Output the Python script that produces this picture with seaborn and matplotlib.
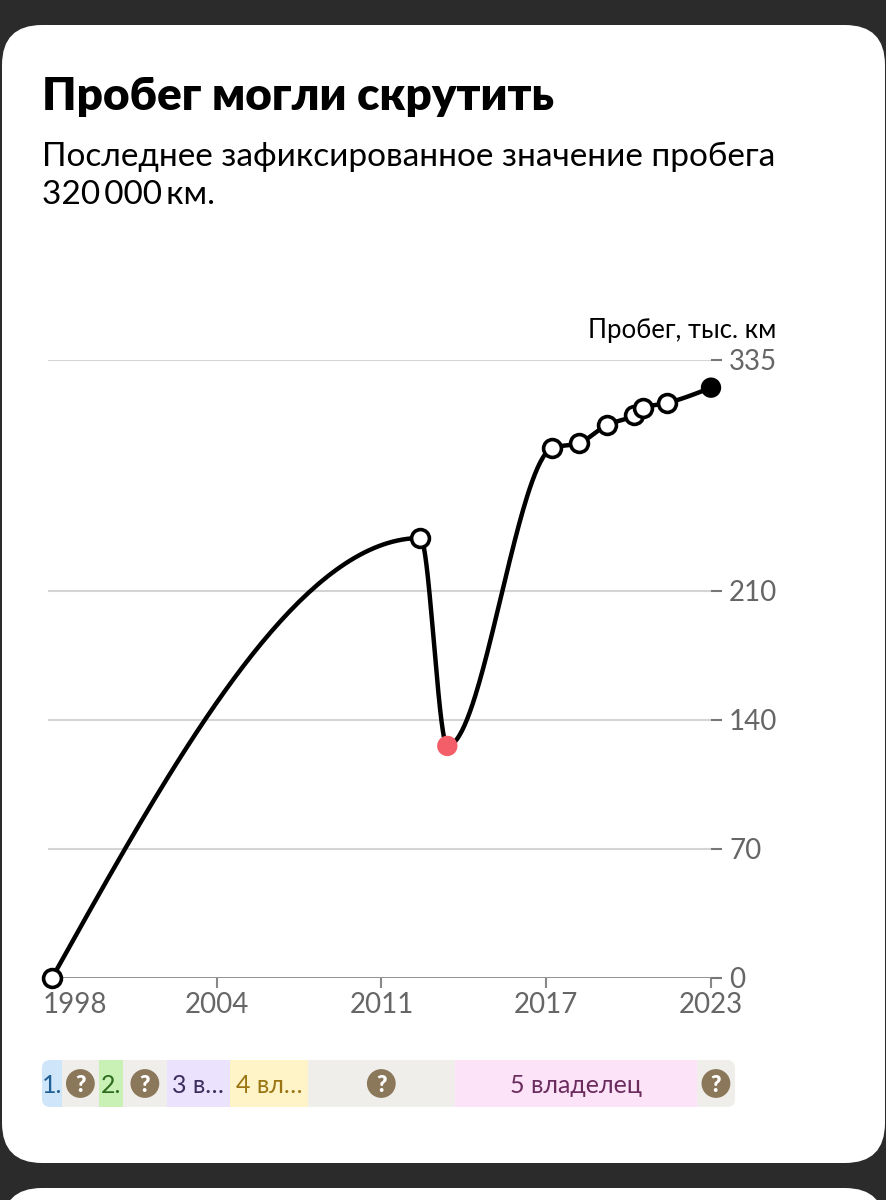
import numpy as np
import pandas as pd
import matplotlib
matplotlib.use("Agg")
import matplotlib.pyplot as plt
import seaborn as sns
from matplotlib.patches import FancyBboxPatch
from matplotlib.transforms import ScaledTranslation

# --- data ---
years = [1998.0, 2012.11, 2013.14, 2017.16, 2018.19, 2019.26, 2020.29, 2020.64, 2021.56, 2023.24]
mileage = [0, 238.5, 125.8, 287.3, 290.0, 299.8, 305.2, 309.0, 311.7, 320.0]
point_kind = ["ok", "ok", "suspect", "ok", "ok", "ok", "ok", "ok", "ok", "last"]

y_ticks = [0, 70, 140, 210, 335]
x_tick_labels = ["1998", "2004", "2011", "2017", "2023"]

owner_edges = [1997.62, 1998.38, 1999.80, 2000.72, 2002.40, 2004.82, 2007.80, 2013.43, 2022.70, 2024.16]
owner_labels = ["1.", "?", "2.", "?", "3 в…", "4 вл…", "?", "5 владелец", "?"]
owner_fill = ["#cfe6fa", "#efeeea", "#c9f1b5", "#efeeea", "#ebe3fd", "#fff3c8", "#efeeea", "#fce3f7", "#efeeea"]
owner_text = ["#1f5f94", None, "#2d6b1f", None, "#3b2d5c", "#9a7512", None, "#6b2c5e", None]

TITLE = "Пробег могли скрутить"
SUBTITLE = ["Последнее зафиксированное значение пробега", "320\u2009000\u2009км."]
Y_LABEL = "Пробег, тыс. км"

W, H = 887, 1200


def fx(px):
    return px / W


def fy(py):
    return 1 - py / H


def monotone_curve(xs, ys, n=80):
    """Monotone-x cubic through the points (same shape as d3.curveMonotoneX)."""
    xs = np.asarray(xs, float)
    ys = np.asarray(ys, float)
    h = np.diff(xs)
    s = np.diff(ys) / h
    t = np.zeros(len(xs))
    for i in range(1, len(xs) - 1):
        p = (s[i - 1] * h[i] + s[i] * h[i - 1]) / (h[i - 1] + h[i])
        t[i] = (np.sign(s[i - 1]) + np.sign(s[i])) * min(abs(s[i - 1]), abs(s[i]), 0.5 * abs(p))
    t[0] = (3 * s[0] - t[1]) / 2
    t[-1] = (3 * s[-1] - t[-2]) / 2
    cx, cy = [], []
    u = np.linspace(0, 1, n)
    for i in range(len(h)):
        h00 = 2 * u**3 - 3 * u**2 + 1
        h10 = u**3 - 2 * u**2 + u
        h01 = -2 * u**3 + 3 * u**2
        h11 = u**3 - u**2
        cx.append(xs[i] + u * h[i])
        cy.append(h00 * ys[i] + h10 * h[i] * t[i] + h01 * ys[i + 1] + h11 * h[i] * t[i + 1])
    return np.concatenate(cx), np.concatenate(cy)


sns.set_theme(style="white")
plt.rcParams["font.family"] = ["Lato", "DejaVu Sans"]

fig = plt.figure(figsize=(W / 100, H / 100), dpi=100, facecolor="#2b2b2b")

# white cards
card = FancyBboxPatch((2 / 100, 37 / 100), 883 / 100, 1138 / 100,
                      boxstyle="round,pad=0,rounding_size=0.40",
                      transform=fig.dpi_scale_trans, facecolor="white",
                      edgecolor="none", zorder=-5)
fig.patches.append(card)
card2 = FancyBboxPatch((2 / 100, -60 / 100), 883 / 100, 72 / 100,
                       boxstyle="round,pad=0,rounding_size=0.40",
                       transform=fig.dpi_scale_trans, facecolor="white",
                       edgecolor="none", zorder=-5)
fig.patches.append(card2)

# header
fig.text(fx(42), fy(110), TITLE, fontsize=33, fontweight="heavy", color="black", va="baseline")
fig.text(fx(42), fy(166), SUBTITLE[0], fontsize=24, color="black", va="baseline")
fig.text(fx(42), fy(204), SUBTITLE[1], fontsize=24, color="black", va="baseline")
fig.text(fx(776), fy(338), Y_LABEL, fontsize=18.5, color="black", ha="right", va="baseline")

# --- main chart ---
ax = fig.add_axes([fx(48), fy(978), fx(711) - fx(48), (978 - 360) / H])
ax.patch.set_visible(False)

px_per_year = (711 - 52) / (years[-1] - years[0])
ax.set_xlim(years[0] - 4 / px_per_year, years[-1])
ax.set_ylim(0, y_ticks[-1])

for v in y_ticks[1:]:
    ax.axhline(v, color="#d4d4d4", lw=1.5, zorder=1)
ax.axhline(0, color="#888888", lw=2, zorder=1)

cx, cy = monotone_curve(years, mileage)
sns.lineplot(x=cx, y=cy, ax=ax, color="black", lw=3.2, sort=False, estimator=None, zorder=3)

pts = pd.DataFrame({"year": years, "km": mileage, "kind": point_kind})
sns.scatterplot(data=pts[pts.kind == "ok"], x="year", y="km", ax=ax, s=165,
                facecolor="white", edgecolor="black", linewidth=2.6, zorder=4, clip_on=False)
sns.scatterplot(data=pts[pts.kind == "suspect"], x="year", y="km", ax=ax, s=215,
                color="#f45e68", edgecolor="none", zorder=4, clip_on=False)
sns.scatterplot(data=pts[pts.kind == "last"], x="year", y="km", ax=ax, s=215,
                color="black", edgecolor="none", zorder=4, clip_on=False)

ax.yaxis.tick_right()
ax.set_yticks(y_ticks)
ax.set_yticklabels([str(v) for v in y_ticks])
ax.set_xticks(np.linspace(years[0], years[-1], len(x_tick_labels)))
ax.set_xticklabels(x_tick_labels)
ax.tick_params(axis="y", right=True, left=False, length=8, width=1.5, color="#777777",
               pad=5, labelsize=20, labelcolor="#666666")
ax.tick_params(axis="x", bottom=True, length=7, width=1.5, color="#888888",
               pad=3, labelsize=20, labelcolor="#666666")
first = ax.get_xticklabels()[0]
first.set_ha("left")
first.set_transform(first.get_transform() + ScaledTranslation(-9 / 100, 0, fig.dpi_scale_trans))
ax.set_xlabel("")
ax.set_ylabel("")
for sp in ax.spines.values():
    sp.set_visible(False)

# --- owners strip ---
bx = fig.add_axes([fx(42), fy(1107), fx(735) - fx(42), (1107 - 1060) / H])
bx.set_xlim(owner_edges[0], owner_edges[-1])
bx.set_ylim(-0.5, 0.5)
bx.axis("off")

starts = np.array(owner_edges[:-1])
widths = np.diff(owner_edges)
bars = bx.barh(0, widths, left=starts, height=1, color=owner_fill, edgecolor="none")
clip = FancyBboxPatch((0, 0), 1, 1, boxstyle="round,pad=0,rounding_size=%f" % (8 / 693),
                      mutation_aspect=693 / 47, transform=bx.transAxes,
                      facecolor="none", edgecolor="none")
bx.add_patch(clip)
for b in bars:
    b.set_clip_path(clip)

for x0, w, lab, col in zip(starts, widths, owner_labels, owner_text):
    xc = x0 + w / 2
    if lab == "?":
        bx.scatter([xc], [0], s=430, color="#8b7759", edgecolor="none", zorder=3)
        bx.text(xc, 0, "?", fontsize=16, fontweight="heavy", color="white",
                ha="center", va="center_baseline", zorder=4)
    else:
        bx.text(xc, 0, lab, fontsize=18, color=col, ha="center", va="center_baseline", zorder=4)

fig.savefig("out.png", dpi=100)
